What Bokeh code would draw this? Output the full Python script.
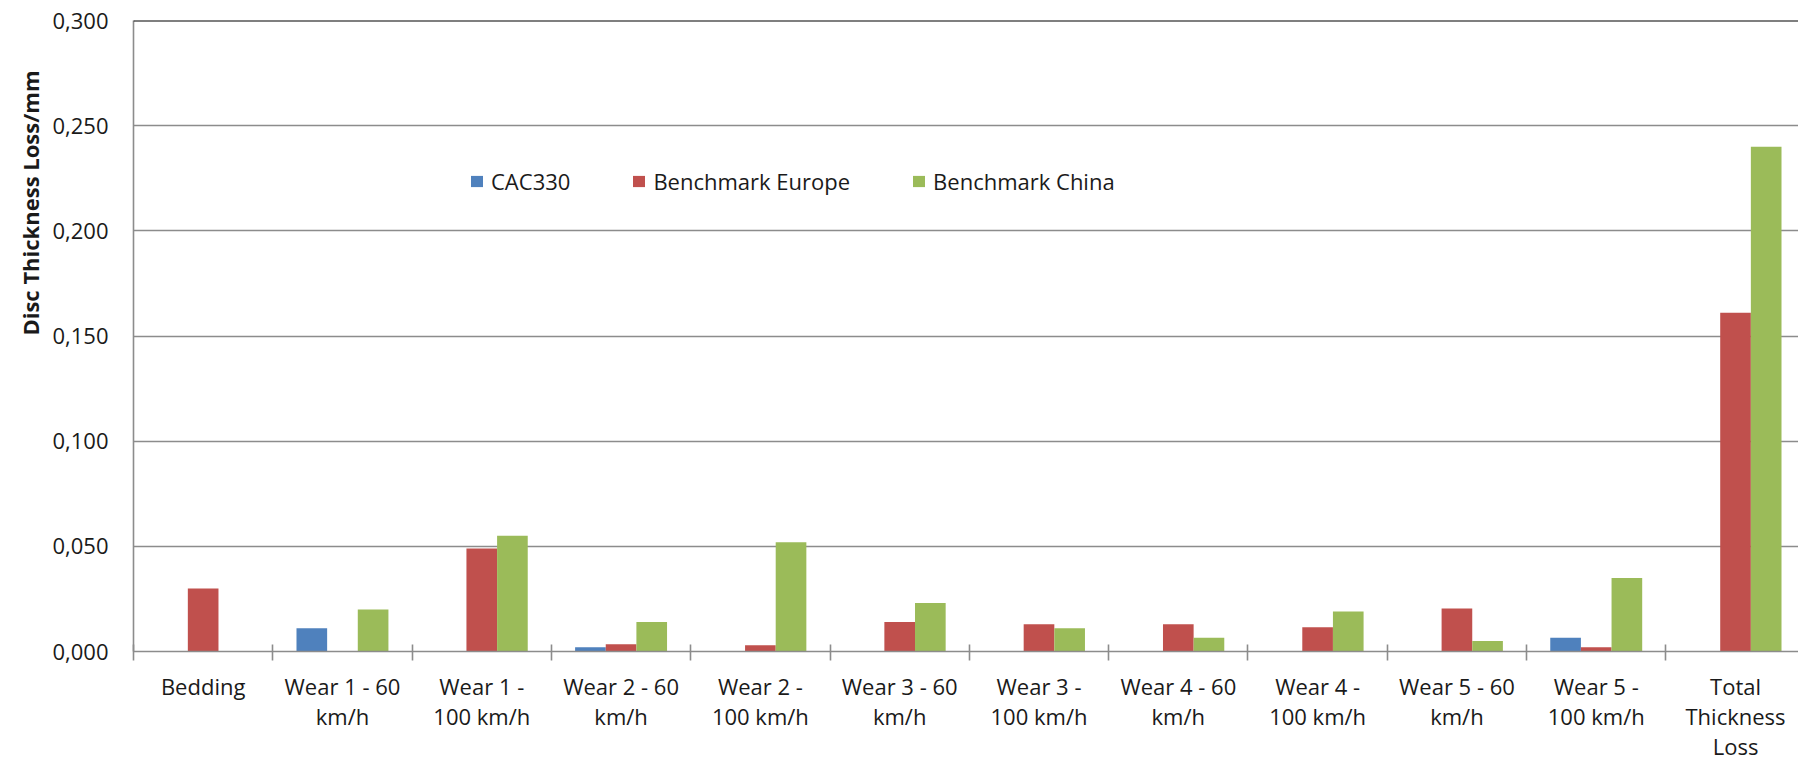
from bokeh.plotting import figure
from bokeh.models import (Range1d, FixedTicker, CustomJSTickFormatter, Span, Legend, LegendItem, Title)
from bokeh.embed import file_html
from bokeh.resources import INLINE

categories = ["Bedding", "Wear 1 - 60 km/h", "Wear 1 - 100 km/h", "Wear 2 - 60 km/h",
              "Wear 2 - 100 km/h", "Wear 3 - 60 km/h", "Wear 3 - 100 km/h", "Wear 4 - 60 km/h",
              "Wear 4 - 100 km/h", "Wear 5 - 60 km/h", "Wear 5 - 100 km/h", "Total Thickness Loss"]
tick_labels = ["Bedding", "Wear 1 - 60\nkm/h", "Wear 1 -\n100 km/h", "Wear 2 - 60\nkm/h",
               "Wear 2 -\n100 km/h", "Wear 3 - 60\nkm/h", "Wear 3 -\n100 km/h", "Wear 4 - 60\nkm/h",
               "Wear 4 -\n100 km/h", "Wear 5 - 60\nkm/h", "Wear 5 -\n100 km/h", "Total\nThickness\nLoss"]
series_names = ["CAC330", "Benchmark Europe", "Benchmark China"]
cac330 = [0.0, 0.011, 0.0, 0.002, 0.0, 0.0, 0.0, 0.0, 0.0, 0.0, 0.0065, 0.0]
europe = [0.030, 0.0, 0.049, 0.0035, 0.003, 0.014, 0.013, 0.013, 0.0115, 0.0205, 0.002, 0.161]
china = [0.0, 0.020, 0.055, 0.014, 0.052, 0.023, 0.011, 0.0065, 0.019, 0.005, 0.035, 0.240]
y_ticks = [0.0, 0.05, 0.10, 0.15, 0.20, 0.25, 0.30]
y_title = "Disc Thickness Loss/mm"

colors = ["#4F81BD", "#C0504D", "#9BBB59"]
FONT = "Open Sans"
TXT = "#1a1a1a"

n = len(categories)
centers = [i + 0.5 for i in range(n)]
bounds = [float(i) for i in range(n + 1)]

p = figure(width=1798, height=763, output_backend="svg", toolbar_location=None,
           x_range=Range1d(0, 11.952), y_range=Range1d(0, 0.3),
           min_border_left=133, min_border_right=0, min_border_top=20, min_border_bottom=111)
p.outline_line_color = None
p.background_fill_color = "white"
p.xgrid.visible = False
p.ygrid.grid_line_color = "#8c8c8c"
p.ygrid.grid_line_width = 1.6

bw = 0.22
renderers = []
for k, (vals, col) in enumerate(zip([cac330, europe, china], colors)):
    xs = [c + (k - 1) * bw for c in centers]
    r = p.vbar(x=xs, top=vals, width=bw, bottom=0, fill_color=col, line_color=None)
    renderers.append(r)

p.add_layout(Span(location=0.3, dimension="width", line_color="black", line_width=2))

# y axis
p.yaxis.ticker = FixedTicker(ticks=y_ticks)
p.yaxis.formatter = CustomJSTickFormatter(code="return tick.toFixed(3).replace('.', ',');")
p.yaxis.major_tick_out = 0
p.yaxis.major_tick_in = 0
p.yaxis.minor_tick_out = 0
p.yaxis.minor_tick_in = 0
p.yaxis.axis_line_color = "#8c8c8c"
p.yaxis.axis_line_width = 1.6
p.yaxis.major_label_standoff = 25
p.yaxis.major_label_text_font = FONT
p.yaxis.major_label_text_font_size = "22px"
p.yaxis.major_label_text_color = TXT

# x axis
p.xaxis.ticker = FixedTicker(ticks=centers, minor_ticks=bounds)
p.xaxis.formatter = CustomJSTickFormatter(args=dict(labels=tick_labels),
                                          code="return labels[Math.floor(tick)];")
p.xaxis.major_tick_out = 0
p.xaxis.major_tick_in = 0
p.xaxis.minor_tick_out = 9
p.xaxis.minor_tick_in = 7
p.xaxis.minor_tick_line_color = "#8c8c8c"
p.xaxis.minor_tick_line_width = 1.6
p.xaxis.axis_line_color = "#8c8c8c"
p.xaxis.axis_line_width = 1.6
p.xaxis.major_label_standoff = 10
p.xaxis.major_label_text_font = FONT
p.xaxis.major_label_text_font_size = "22px"
p.xaxis.major_label_text_color = TXT
p.xaxis.major_label_text_line_height = 1.0

# y axis title, in the upper part of the left side like the original
p.add_layout(Title(text=y_title, align="right", offset=50, standoff=10,
                   text_font=FONT, text_font_size="22px", text_font_style="bold",
                   text_color=TXT), "left")

legend = Legend(items=[LegendItem(label=nm, renderers=[r]) for nm, r in zip(series_names, renderers)],
                orientation="horizontal", location=(336, 455), padding=0, margin=0,
                spacing=61, label_standoff=7, glyph_width=15, glyph_height=14,
                border_line_color=None, background_fill_alpha=0,
                label_text_font=FONT, label_text_font_size="22px", label_text_color=TXT)
p.add_layout(legend)

open("out.html", "w").write(file_html(p, INLINE))
